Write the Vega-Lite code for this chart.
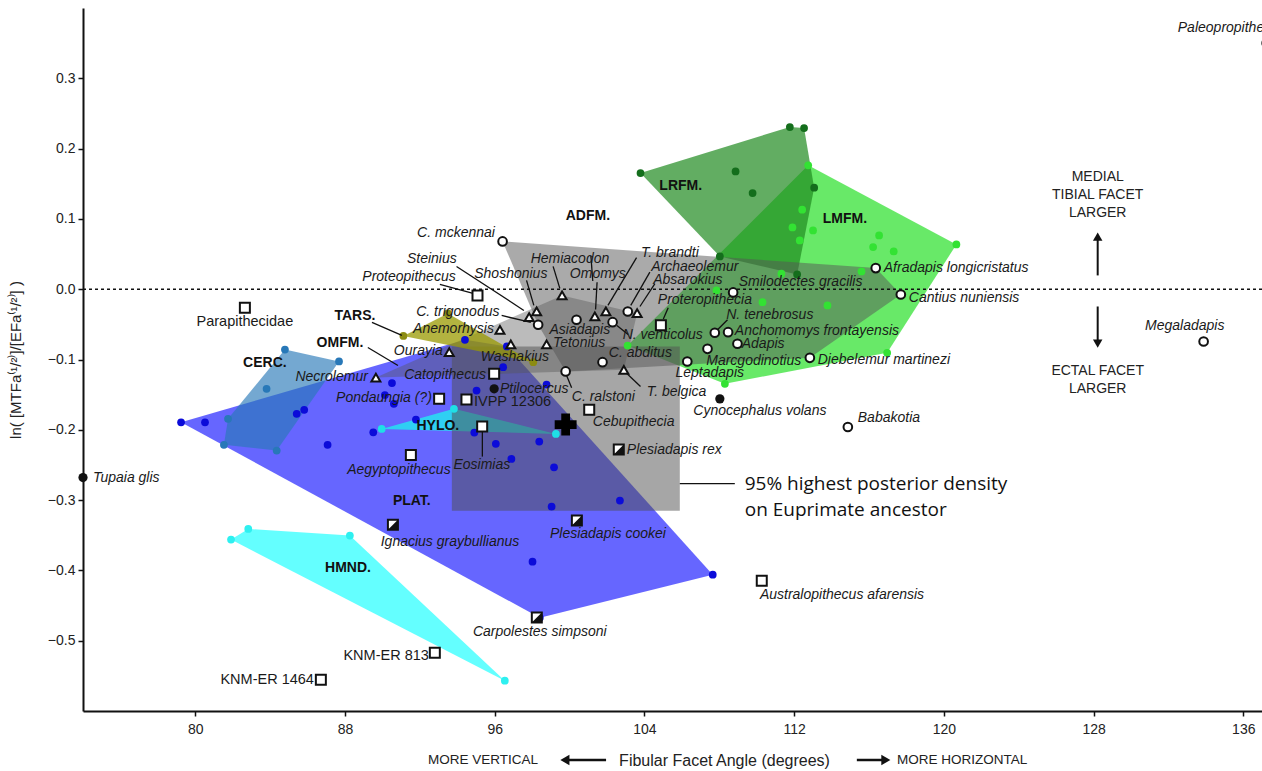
{
"$schema": "https://vega.github.io/schema/vega-lite/v6.json",
"width": 1179, "height": 703,
"autosize": {"type": "none"},
"padding": {"left": 83, "top": 8, "right": 0, "bottom": 60},
"config": {"view": {"stroke": null}, "font": "Liberation Sans"},
"datasets": {
"polys": [
{"g":"PLAT","i":1,"x":79.24,"y":-0.1893},{"g":"PLAT","i":2,"x":94.41,"y":-0.072},{"g":"PLAT","i":3,"x":96.65,"y":-0.0815},{"g":"PLAT","i":4,"x":107.65,"y":-0.4061},{"g":"PLAT","i":5,"x":98.41,"y":-0.4672},
{"g":"CERC","i":1,"x":84.79,"y":-0.0858},{"g":"CERC","i":2,"x":87.68,"y":-0.1028},{"g":"CERC","i":3,"x":84.35,"y":-0.2295},{"g":"CERC","i":4,"x":81.53,"y":-0.2214},{"g":"CERC","i":5,"x":81.75,"y":-0.1844},
{"g":"HMND","i":1,"x":81.91,"y":-0.3562},{"g":"HMND","i":2,"x":82.83,"y":-0.341},{"g":"HMND","i":3,"x":88.26,"y":-0.3505},{"g":"HMND","i":4,"x":96.54,"y":-0.5569},
{"g":"HYLO","i":1,"x":89.96,"y":-0.1987},{"g":"HYLO","i":2,"x":93.82,"y":-0.1702},{"g":"HYLO","i":3,"x":99.27,"y":-0.2058},
{"g":"TARS","i":1,"x":91.12,"y":-0.0665},{"g":"TARS","i":2,"x":93.5,"y":-0.0345},{"g":"TARS","i":3,"x":98.06,"y":-0.1038},
{"g":"OMFM","i":1,"x":89.65,"y":-0.1257},{"g":"OMFM","i":2,"x":99.6,"y":-0.0089},{"g":"OMFM","i":3,"x":103.61,"y":-0.0341},{"g":"OMFM","i":4,"x":102.9,"y":-0.1147},
{"g":"ADFM","i":1,"x":96.42,"y":0.068},{"g":"ADFM","i":2,"x":116.36,"y":0.03},{"g":"ADFM","i":3,"x":117.7,"y":-0.0075},{"g":"ADFM","i":4,"x":112.84,"y":-0.0976},{"g":"ADFM","i":5,"x":99.79,"y":-0.117},{"g":"ADFM","i":6,"x":98.32,"y":-0.0506},
{"g":"LRFM","i":1,"x":103.79,"y":0.1652},{"g":"LRFM","i":2,"x":111.77,"y":0.2307},{"g":"LRFM","i":3,"x":112.53,"y":0.2293},{"g":"LRFM","i":4,"x":113.07,"y":0.1444},{"g":"LRFM","i":5,"x":112.16,"y":0.021},{"g":"LRFM","i":6,"x":108.03,"y":0.0466},
{"g":"LMFM","i":1,"x":112.75,"y":0.1762},{"g":"LMFM","i":2,"x":120.67,"y":0.0637},{"g":"LMFM","i":3,"x":116.97,"y":-0.0905},{"g":"LMFM","i":4,"x":108.3,"y":-0.1346},{"g":"LMFM","i":5,"x":103.1,"y":-0.0801}
],
"dots": [
{"g":"PLAT","x":79.24,"y":-0.1893},{"g":"PLAT","x":80.52,"y":-0.1893},{"g":"PLAT","x":85.42,"y":-0.1773},{"g":"PLAT","x":85.82,"y":-0.1716},{"g":"PLAT","x":87.07,"y":-0.2214},{"g":"PLAT","x":89.51,"y":-0.2035},{"g":"PLAT","x":90.51,"y":-0.1335},{"g":"PLAT","x":90.13,"y":-0.1505},{"g":"PLAT","x":90.61,"y":-0.1631},{"g":"PLAT","x":91.79,"y":-0.1854},{"g":"PLAT","x":94.41,"y":-0.072},{"g":"PLAT","x":95.03,"y":-0.1441},{"g":"PLAT","x":94.91,"y":-0.2039},{"g":"PLAT","x":96.06,"y":-0.22},{"g":"PLAT","x":96.89,"y":-0.2414},{"g":"PLAT","x":98.38,"y":-0.2167},{"g":"PLAT","x":99.17,"y":-0.2533},{"g":"PLAT","x":99.04,"y":-0.3093},{"g":"PLAT","x":98.02,"y":-0.3876},{"g":"PLAT","x":102.69,"y":-0.3007},{"g":"PLAT","x":107.65,"y":-0.4061},{"g":"PLAT","x":98.41,"y":-0.4672},{"g":"PLAT","x":96.65,"y":-0.0815},{"g":"PLAT","x":96.45,"y":-0.111},{"g":"PLAT","x":98.77,"y":-0.1356},
{"g":"CERC","x":84.79,"y":-0.0858},{"g":"CERC","x":87.68,"y":-0.1028},{"g":"CERC","x":83.81,"y":-0.1417},{"g":"CERC","x":81.75,"y":-0.1844},{"g":"CERC","x":81.53,"y":-0.2214},{"g":"CERC","x":84.35,"y":-0.2295},
{"g":"HMND","x":81.91,"y":-0.3562},{"g":"HMND","x":82.83,"y":-0.341},{"g":"HMND","x":88.26,"y":-0.3505},{"g":"HMND","x":96.54,"y":-0.5569},
{"g":"HYLO","x":89.96,"y":-0.1987},{"g":"HYLO","x":93.82,"y":-0.1702},{"g":"HYLO","x":99.27,"y":-0.2058},
{"g":"TARS","x":91.12,"y":-0.0665},{"g":"TARS","x":93.5,"y":-0.0345},{"g":"TARS","x":98.06,"y":-0.1038},
{"g":"LRFM","x":103.79,"y":0.1652},{"g":"LRFM","x":111.77,"y":0.2307},{"g":"LRFM","x":112.53,"y":0.2293},{"g":"LRFM","x":113.07,"y":0.1444},{"g":"LRFM","x":112.16,"y":0.021},{"g":"LRFM","x":108.03,"y":0.0466},{"g":"LRFM","x":108.87,"y":0.1676},{"g":"LRFM","x":109.78,"y":0.1367},
{"g":"LMFM","x":112.75,"y":0.1762},{"g":"LMFM","x":120.67,"y":0.0637},{"g":"LMFM","x":116.97,"y":-0.0905},{"g":"LMFM","x":108.3,"y":-0.1346},{"g":"LMFM","x":103.1,"y":-0.0801},{"g":"LMFM","x":112.43,"y":0.1131},{"g":"LMFM","x":111.91,"y":0.0879},{"g":"LMFM","x":113.01,"y":0.0836},{"g":"LMFM","x":112.3,"y":0.0694},{"g":"LMFM","x":116.54,"y":0.0765},{"g":"LMFM","x":116.22,"y":0.0599},{"g":"LMFM","x":117.32,"y":0.0537},{"g":"LMFM","x":115.6,"y":0.0253},{"g":"LMFM","x":111.32,"y":0.022},{"g":"LMFM","x":110.31,"y":-0.0184},{"g":"LMFM","x":113.78,"y":-0.0231},{"g":"LMFM","x":107.85,"y":-0.0018}
],
"spec": [
{"n":"C. mckennai","k":"o","x":96.42,"y":0.068},{"n":"C. trigonodus","k":"o","x":98.32,"y":-0.0506},{"n":"Asiadapis","k":"o","x":100.37,"y":-0.0435},{"n":"N. venticolus","k":"o","x":102.3,"y":-0.0469},{"n":"Archaeolemur","k":"o","x":103.11,"y":-0.0317},{"n":"C. abditus","k":"o","x":101.76,"y":-0.1038},{"n":"C. ralstoni","k":"o","x":99.79,"y":-0.117},{"n":"Leptadapis","k":"o","x":106.29,"y":-0.1028},{"n":"Marcgodinotius","k":"o","x":107.37,"y":-0.0848},{"n":"N. tenebrosus","k":"o","x":107.76,"y":-0.062},{"n":"Anchomomys frontayensis","k":"o","x":108.47,"y":-0.0611},{"n":"Adapis","k":"o","x":108.97,"y":-0.0776},{"n":"Smilodectes gracilis","k":"o","x":108.74,"y":-0.0046},{"n":"Afradapis longicristatus","k":"o","x":116.36,"y":0.03},{"n":"Cantius nuniensis","k":"o","x":117.7,"y":-0.0075},{"n":"Djebelemur martinezi","k":"o","x":112.84,"y":-0.0976},{"n":"Babakotia","k":"o","x":114.87,"y":-0.196},{"n":"Megaladapis","k":"o","x":133.88,"y":-0.0744},{"n":"Paleopropithecus","k":"o","x":137.25,"y":0.35},
{"n":"Hemiacodon","k":"t","x":99.6,"y":-0.0089},{"n":"Shoshonius","k":"t","x":98.24,"y":-0.0317},{"n":"Steinius","k":"t","x":97.84,"y":-0.0398},{"n":"Omomys","k":"t","x":101.35,"y":-0.0388},{"n":"T. brandti","k":"t","x":101.94,"y":-0.0317},{"n":"Absarokius","k":"t","x":103.61,"y":-0.0341},{"n":"Anemorhysis","k":"t","x":96.28,"y":-0.0577},{"n":"Tetonius","k":"t","x":98.77,"y":-0.0786},{"n":"Washakius","k":"t","x":96.86,"y":-0.0786},{"n":"Ourayia","k":"t","x":93.57,"y":-0.0896},{"n":"T. belgica","k":"t","x":102.9,"y":-0.1147},{"n":"Necrolemur","k":"t","x":89.65,"y":-0.1257},
{"n":"Proteopithecus","k":"s","x":95.08,"y":-0.0089},{"n":"Parapithecidae","k":"s","x":82.65,"y":-0.0264},{"n":"Catopithecus","k":"s","x":95.97,"y":-0.1203},{"n":"Pondaungia (?)","k":"s","x":93.03,"y":-0.156},{"n":"IVPP 12306","k":"s","x":94.49,"y":-0.157},{"n":"Eosimias","k":"s","x":95.33,"y":-0.1953},{"n":"Aegyptopithecus","k":"s","x":91.52,"y":-0.2357},{"n":"Cebupithecia","k":"s","x":101.05,"y":-0.1716},{"n":"Proteropithecia","k":"s","x":104.88,"y":-0.0512},{"n":"Australopithecus afarensis","k":"s","x":110.27,"y":-0.4146},{"n":"KNM-ER 813","k":"s","x":92.8,"y":-0.517},{"n":"KNM-ER 1464","k":"s","x":86.71,"y":-0.5554},
{"n":"Plesiadapis rex","k":"h","x":102.63,"y":-0.228},{"n":"Ignacius graybullianus","k":"h","x":90.56,"y":-0.335},{"n":"Plesiadapis cookei","k":"h","x":100.39,"y":-0.329},{"n":"Carpolestes simpsoni","k":"h","x":98.25,"y":-0.467},
{"n":"Tupaia glis","k":"b","x":74.0,"y":-0.268},{"n":"Ptilocercus","k":"b","x":95.97,"y":-0.1417},{"n":"Cynocephalus volans","k":"b","x":108.03,"y":-0.156},
{"n":"Euprimate ancestor","k":"x","x":99.79,"y":-0.1925}
],
"labs": [
{"t":"Tupaia glis","a":"l","s":"i","x":74.53,"y":-0.268},
{"t":"Tetonius","a":"l","s":"i","x":99.11,"y":-0.0772},
{"t":"C. abditus","a":"l","s":"i","x":102.1,"y":-0.0914},
{"t":"Ptilocercus","a":"l","s":"i","x":96.28,"y":-0.1413},
{"t":"C. ralstoni","a":"l","s":"i","x":100.12,"y":-0.1527},
{"t":"T. belgica","a":"l","s":"i","x":104.13,"y":-0.1456},
{"t":"Cebupithecia","a":"l","s":"i","x":101.24,"y":-0.1883},
{"t":"Plesiadapis rex","a":"l","s":"i","x":103.06,"y":-0.2281},
{"t":"Australopithecus afarensis","a":"l","s":"i","x":110.17,"y":-0.4346},
{"t":"Babakotia","a":"l","s":"i","x":115.4,"y":-0.1826},
{"t":"Smilodectes gracilis","a":"l","s":"i","x":109.04,"y":0.0096},
{"t":"Afradapis longicristatus","a":"l","s":"i","x":116.79,"y":0.0295},
{"t":"Cantius nuniensis","a":"l","s":"i","x":118.13,"y":-0.0132},
{"t":"Anchomomys frontayensis","a":"l","s":"i","x":108.83,"y":-0.0601},
{"t":"Adapis","a":"l","s":"i","x":109.2,"y":-0.0786},
{"t":"Djebelemur martinezi","a":"l","s":"i","x":113.26,"y":-0.1014},
{"t":"Paleopropithecus","a":"l","s":"i","x":132.5,"y":0.3712},
{"t":"Steinius","a":"c","s":"i","x":92.64,"y":0.0424},
{"t":"Shoshonius","a":"c","s":"i","x":96.86,"y":0.021},
{"t":"Proteopithecus","a":"c","s":"i","x":91.42,"y":0.0167},
{"t":"Hemiacodon","a":"c","s":"i","x":100.02,"y":0.0424},
{"t":"Omomys","a":"c","s":"i","x":101.51,"y":0.021},
{"t":"T. brandti","a":"c","s":"i","x":105.36,"y":0.0509},
{"t":"Archaeolemur","a":"c","s":"i","x":106.69,"y":0.031},
{"t":"Absarokius","a":"c","s":"i","x":106.32,"y":0.0125},
{"t":"C. trigonodus","a":"c","s":"i","x":94.03,"y":-0.0331},
{"t":"Asiadapis","a":"c","s":"i","x":100.55,"y":-0.0587},
{"t":"Washakius","a":"c","s":"i","x":97.08,"y":-0.0971},
{"t":"N. venticolus","a":"c","s":"i","x":104.98,"y":-0.0658},
{"t":"Eosimias","a":"c","s":"i","x":95.31,"y":-0.2495},
{"t":"Aegyptopithecus","a":"c","s":"i","x":90.88,"y":-0.2566},
{"t":"Ignacius graybullianus","a":"c","s":"i","x":93.61,"y":-0.3591},
{"t":"Plesiadapis cookei","a":"c","s":"i","x":102.05,"y":-0.3477},
{"t":"Carpolestes simpsoni","a":"c","s":"i","x":98.41,"y":-0.4872},
{"t":"Cynocephalus volans","a":"c","s":"i","x":110.17,"y":-0.1726},
{"t":"Megaladapis","a":"c","s":"i","x":132.87,"y":-0.053},
{"t":"Proteropithecia","a":"c","s":"i","x":107.23,"y":-0.016},
{"t":"N. tenebrosus","a":"c","s":"i","x":110.7,"y":-0.0374},
{"t":"Marcgodinotius","a":"c","s":"i","x":109.84,"y":-0.1028},
{"t":"Leptadapis","a":"c","s":"i","x":107.49,"y":-0.1199},
{"t":"C. mckennai","a":"r","s":"i","x":96.01,"y":0.0794},
{"t":"Anemorhysis","a":"r","s":"i","x":95.96,"y":-0.0573},
{"t":"Ourayia","a":"r","s":"i","x":93.23,"y":-0.0886},
{"t":"Necrolemur","a":"r","s":"i","x":89.22,"y":-0.1256},
{"t":"Catopithecus","a":"r","s":"i","x":95.53,"y":-0.1214},
{"t":"Pondaungia (?)","a":"r","s":"i","x":92.64,"y":-0.1541},
{"t":"IVPP 12306","a":"l","s":"n","x":94.89,"y":-0.1598},
{"t":"Parapithecidae","a":"c","s":"n","x":82.65,"y":-0.0473},
{"t":"KNM-ER 813","a":"r","s":"n","x":92.48,"y":-0.5214},
{"t":"KNM-ER 1464","a":"r","s":"n","x":86.34,"y":-0.5556}
],
"lead": [
{"x":93.07,"y":0.0068,"x2":94.94,"y2":-0.0065},
{"x":93.96,"y":0.0324,"x2":97.56,"y2":-0.0302},
{"x":97.7,"y":0.0125,"x2":98.09,"y2":-0.0231},
{"x":96.37,"y":-0.0374,"x2":97.93,"y2":-0.0473},
{"x":99.12,"y":0.0324,"x2":99.48,"y2":0.0011},
{"x":101.47,"y":0.01,"x2":101.39,"y2":-0.0288},
{"x":103.58,"y":0.0448,"x2":102.05,"y2":-0.0231},
{"x":104.29,"y":0.0243,"x2":103.27,"y2":-0.0231},
{"x":104.56,"y":0.0078,"x2":103.76,"y2":-0.0246},
{"x":102.53,"y":-0.0516,"x2":103.13,"y2":-0.0644},
{"x":99.84,"y":-0.1228,"x2":100.11,"y2":-0.1403},
{"x":103.06,"y":-0.1199,"x2":103.79,"y2":-0.1384},
{"x":105.27,"y":-0.0264,"x2":105.01,"y2":-0.0424},
{"x":108.44,"y":-0.0435,"x2":107.92,"y2":-0.0573},
{"x":95.34,"y":-0.2025,"x2":95.34,"y2":-0.2381},
{"x":101.14,"y":0.0473,"x2":101.24,"y2":0.0117},
{"x":89.44,"y":-0.0473,"x2":91.04,"y2":-0.0658},
{"x":89.22,"y":-0.0829,"x2":90.83,"y2":-0.1085},
{"x":105.89,"y":-0.2765,"x2":108.83,"y2":-0.2765}
],
"grps": [
{"t":"LRFM.","x":105.94,"y":0.1463},{"t":"LMFM.","x":114.71,"y":0.0993},{"t":"ADFM.","x":100.98,"y":0.1035},{"t":"TARS.","x":88.53,"y":-0.0388},{"t":"OMFM.","x":87.73,"y":-0.0772},{"t":"CERC.","x":83.72,"y":-0.105},{"t":"HYLO.","x":92.96,"y":-0.1947},{"t":"PLAT.","x":91.57,"y":-0.3007},{"t":"HMND.","x":88.16,"y":-0.397}
],
"notes": [
{"t":"MEDIAL","x":128.22,"y":0.159},{"t":"TIBIAL FACET","x":128.22,"y":0.1334},{"t":"LARGER","x":128.22,"y":0.1078},{"t":"ECTAL FACET","x":128.22,"y":-0.1157},{"t":"LARGER","x":128.22,"y":-0.1413}
],
"xnotes": [
{"t":"MORE VERTICAL","a":"r","x":98.31,"y":-0.6697},
{"t":"MORE HORIZONTAL","a":"l","x":117.5,"y":-0.6697}
],
"xarrows": [{"x":99.9,"x2":101.95,"y":-0.6697},{"x":115.35,"x2":116.75,"y":-0.6697}],
"xheads": [{"d":"left","x":99.75,"y":-0.6697},{"d":"right","x":116.9,"y":-0.6697}],
"hpd": [{"x":93.71,"x2":105.89,"y":-0.0815,"y2":-0.315}],
"hpdtxt": [{"t":"95% highest posterior density","x":109.36,"y":-0.2765},{"t":"on Euprimate ancestor","x":109.36,"y":-0.3135}],
"zero": [{"x":74,"x2":137,"y":0}],
"arrows": [{"x":128.22,"y":0.0196,"y2":0.07},{"x":128.22,"y":-0.0246,"y2":-0.073}],
"heads": [{"d":"up","x":128.22,"y":0.0747},{"d":"down","x":128.22,"y":-0.0775}]
},
"encoding": {
"x": {"field":"x","type":"quantitative","scale":{"domain":[74,137],"nice":false,"zero":false},
 "axis":{"values":[80,88,96,104,112,120,128,136],"grid":false,"tickSize":5,"tickWidth":1.5,"tickColor":"#111","domainColor":"#111","domainWidth":2,"labelFontSize":14,"labelColor":"#222","labelPadding":6,"labelFont":"Liberation Sans",
 "title":"Fibular Facet Angle (degrees)","titleFont":"Liberation Sans","titleFontSize":16,"titleFontWeight":"normal","titleColor":"#222","titleX":641,"titleY":49,"titleAlign":"center","titleBaseline":"middle"}},
"y": {"field":"y","type":"quantitative","scale":{"domain":[-0.6,0.4],"nice":false,"zero":false},
 "axis":{"values":[-0.5,-0.4,-0.3,-0.2,-0.1,0,0.1,0.2,0.3],"format":".1f","grid":false,"tickSize":5,"tickWidth":1.5,"tickColor":"#111","domainColor":"#111","domainWidth":2,"labelFontSize":14,"labelColor":"#222","labelPadding":3,"labelFont":"Liberation Sans",
 "title":"ln( [MTFa⁽¹/²⁾]/[EFa⁽¹/²⁾] )","titleFont":"Liberation Sans","titleFontSize":15,"titleFontWeight":"normal","titleColor":"#222","titlePadding":24}}
},
"layer": [
{"data":{"name":"polys"},"transform":[{"filter":"datum.g==='PLAT'"}],"mark":{"type":"line","fill":"#3333ff","fillOpacity":0.75,"strokeWidth":0},"encoding":{"order":{"field":"i","type":"quantitative"}}},
{"data":{"name":"polys"},"transform":[{"filter":"datum.g==='CERC'"}],"mark":{"type":"line","fill":"#2a7ab8","fillOpacity":0.65,"strokeWidth":0},"encoding":{"order":{"field":"i","type":"quantitative"}}},
{"data":{"name":"polys"},"transform":[{"filter":"datum.g==='HMND'"}],"mark":{"type":"line","fill":"#3dffff","fillOpacity":0.8,"strokeWidth":0},"encoding":{"order":{"field":"i","type":"quantitative"}}},
{"data":{"name":"polys"},"transform":[{"filter":"datum.g==='HYLO'"}],"mark":{"type":"line","fill":"#22eaf0","fillOpacity":0.8,"strokeWidth":0},"encoding":{"order":{"field":"i","type":"quantitative"}}},
{"data":{"name":"polys"},"transform":[{"filter":"datum.g==='LMFM'"}],"mark":{"type":"line","fill":"#2ee02e","fillOpacity":0.72,"strokeWidth":0},"encoding":{"order":{"field":"i","type":"quantitative"}}},
{"data":{"name":"polys"},"transform":[{"filter":"datum.g==='LRFM'"}],"mark":{"type":"line","fill":"#1f8a1f","fillOpacity":0.7,"strokeWidth":0},"encoding":{"order":{"field":"i","type":"quantitative"}}},
{"data":{"name":"hpd"},"mark":{"type":"rect","fill":"#4d4d4d","fillOpacity":0.5},"encoding":{"x2":{"field":"x2"},"y2":{"field":"y2"}}},
{"data":{"name":"polys"},"transform":[{"filter":"datum.g==='ADFM'"}],"mark":{"type":"line","fill":"#555555","fillOpacity":0.5,"strokeWidth":0},"encoding":{"order":{"field":"i","type":"quantitative"}}},
{"data":{"name":"polys"},"transform":[{"filter":"datum.g==='OMFM'"}],"mark":{"type":"line","fill":"#555555","fillOpacity":0.4,"strokeWidth":0},"encoding":{"order":{"field":"i","type":"quantitative"}}},
{"data":{"name":"polys"},"transform":[{"filter":"datum.g==='TARS'"}],"mark":{"type":"line","fill":"#9a9a00","fillOpacity":0.75,"strokeWidth":0},"encoding":{"order":{"field":"i","type":"quantitative"}}},
{"data":{"name":"zero"},"mark":{"type":"rule","color":"#111","strokeWidth":1.4,"strokeDash":[3,3]},"encoding":{"x2":{"field":"x2"}}},
{"data":{"name":"dots"},"mark":{"type":"point","filled":true,"size":60,"opacity":1,"strokeWidth":0},"encoding":{"color":{"field":"g","type":"nominal","legend":null,"scale":{"domain":["PLAT","CERC","HMND","HYLO","TARS","LRFM","LMFM"],"range":["#0b0bd9","#2878b8","#2ef0f0","#1fe0e6","#8c8c12","#146e1c","#33e233"]}}}},
{"data":{"name":"lead"},"mark":{"type":"rule","color":"#111","strokeWidth":1.3},"encoding":{"x2":{"field":"x2"},"y2":{"field":"y2"}}},
{"data":{"name":"arrows"},"mark":{"type":"rule","color":"#111","strokeWidth":2},"encoding":{"y2":{"field":"y2"}}},
{"data":{"name":"heads"},"transform":[{"filter":"datum.d==='up'"}],"mark":{"type":"point","shape":"triangle-up","filled":true,"color":"#111","size":90,"opacity":1}},
{"data":{"name":"heads"},"transform":[{"filter":"datum.d==='down'"}],"mark":{"type":"point","shape":"triangle-down","filled":true,"color":"#111","size":90,"opacity":1}},
{"data":{"name":"xarrows"},"mark":{"type":"rule","color":"#111","strokeWidth":2.5,"clip":false},"encoding":{"x2":{"field":"x2"}}},
{"data":{"name":"xheads"},"transform":[{"filter":"datum.d==='left'"}],"mark":{"type":"point","shape":"triangle-left","filled":true,"color":"#111","size":110,"opacity":1}},
{"data":{"name":"xheads"},"transform":[{"filter":"datum.d==='right'"}],"mark":{"type":"point","shape":"triangle-right","filled":true,"color":"#111","size":110,"opacity":1}},
{"data":{"name":"spec"},"transform":[{"filter":"datum.k==='o'"}],"mark":{"type":"point","shape":"circle","size":75,"fill":"white","stroke":"#111","strokeWidth":2,"opacity":1,"filled":true}},
{"data":{"name":"spec"},"transform":[{"filter":"datum.k==='t'"}],"mark":{"type":"point","shape":"triangle-up","size":80,"fill":"white","stroke":"#111","strokeWidth":2,"opacity":1,"filled":true}},
{"data":{"name":"spec"},"transform":[{"filter":"datum.k==='s' || datum.k==='h'"}],"mark":{"type":"point","shape":"square","size":100,"fill":"white","stroke":"#111","strokeWidth":2,"opacity":1,"filled":true}},
{"data":{"name":"spec"},"transform":[{"filter":"datum.k==='h'"}],"mark":{"type":"point","shape":"M1,-1L1,1L-1,1Z","size":100,"fill":"#111","strokeWidth":0,"opacity":1,"filled":true}},
{"data":{"name":"spec"},"transform":[{"filter":"datum.k==='b'"}],"mark":{"type":"point","shape":"circle","size":85,"fill":"#111","strokeWidth":0,"opacity":1,"filled":true}},
{"data":{"name":"spec"},"transform":[{"filter":"datum.k==='x'"}],"mark":{"type":"point","shape":"cross","size":480,"fill":"#000","strokeWidth":0,"opacity":1,"filled":true}},
{"data":{"name":"labs"},"transform":[{"filter":"datum.s==='i' && datum.a==='l'"}],"mark":{"type":"text","align":"left","baseline":"middle","fontStyle":"italic","fontSize":14,"color":"#1a1a1a"},"encoding":{"text":{"field":"t"}}},
{"data":{"name":"labs"},"transform":[{"filter":"datum.s==='i' && datum.a==='c'"}],"mark":{"type":"text","align":"center","baseline":"middle","fontStyle":"italic","fontSize":14,"color":"#1a1a1a"},"encoding":{"text":{"field":"t"}}},
{"data":{"name":"labs"},"transform":[{"filter":"datum.s==='i' && datum.a==='r'"}],"mark":{"type":"text","align":"right","baseline":"middle","fontStyle":"italic","fontSize":14,"color":"#1a1a1a"},"encoding":{"text":{"field":"t"}}},
{"data":{"name":"labs"},"transform":[{"filter":"datum.s==='n' && datum.a==='l'"}],"mark":{"type":"text","align":"left","baseline":"middle","fontSize":14.5,"color":"#1a1a1a"},"encoding":{"text":{"field":"t"}}},
{"data":{"name":"labs"},"transform":[{"filter":"datum.s==='n' && datum.a==='c'"}],"mark":{"type":"text","align":"center","baseline":"middle","fontSize":14.5,"color":"#1a1a1a"},"encoding":{"text":{"field":"t"}}},
{"data":{"name":"labs"},"transform":[{"filter":"datum.s==='n' && datum.a==='r'"}],"mark":{"type":"text","align":"right","baseline":"middle","fontSize":14.5,"color":"#1a1a1a"},"encoding":{"text":{"field":"t"}}},
{"data":{"name":"grps"},"mark":{"type":"text","align":"center","baseline":"middle","fontWeight":"bold","fontSize":14,"color":"#111"},"encoding":{"text":{"field":"t"}}},
{"data":{"name":"notes"},"mark":{"type":"text","align":"center","baseline":"middle","fontSize":14,"color":"#222"},"encoding":{"text":{"field":"t"}}},
{"data":{"name":"xnotes"},"transform":[{"filter":"datum.a==='r'"}],"mark":{"type":"text","align":"right","baseline":"middle","fontSize":13.5,"color":"#222"},"encoding":{"text":{"field":"t"}}},
{"data":{"name":"xnotes"},"transform":[{"filter":"datum.a==='l'"}],"mark":{"type":"text","align":"left","baseline":"middle","fontSize":13.5,"color":"#222"},"encoding":{"text":{"field":"t"}}},
{"data":{"name":"hpdtxt"},"mark":{"type":"text","align":"left","baseline":"middle","font":"Open Sans","fontSize":19,"color":"#111"},"encoding":{"text":{"field":"t"}}}
]
}
